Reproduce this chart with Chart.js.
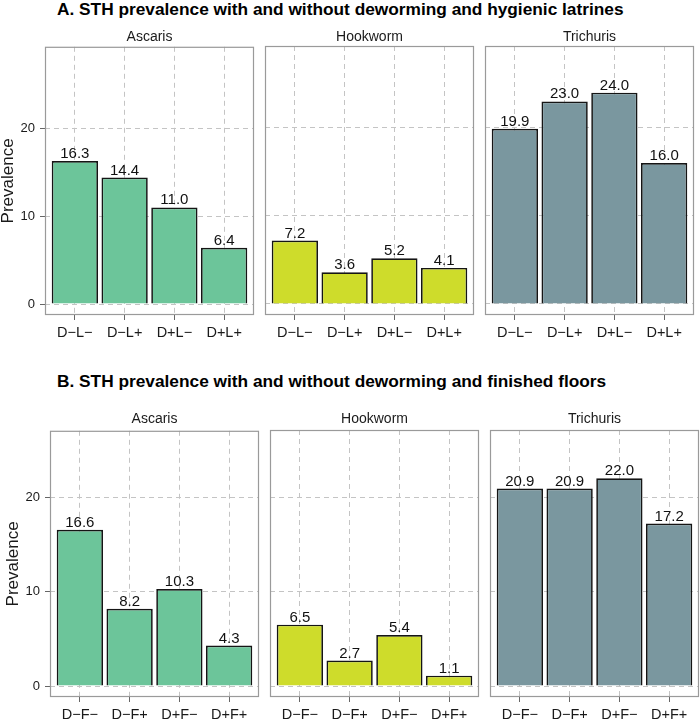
<!DOCTYPE html>
<html>
<head>
<meta charset="utf-8">
<script src="https://cdn.jsdelivr.net/npm/chart.js@4"></script>
<style>
  body { margin: 0; width: 700px; height: 719px; overflow: hidden; background: #fff; position: relative;
         font-family: "Liberation Sans", Arial, Helvetica, sans-serif; }
  .ttl { position: absolute; left: 57px; font-weight: bold; font-size: 17.3px; line-height: 17px; color: #000; white-space: nowrap; }
  .strip { position: absolute; width: 209px; text-align: center; font-size: 14px; line-height: 14px; color: #1a1a1a; }
  canvas { position: absolute; }
</style>
</head>
<body>
<div class="ttl" style="top:1px">A. STH prevalence with and without deworming and hygienic latrines</div>
<div class="ttl" style="top:373px">B. STH prevalence with and without deworming and finished floors</div>
<script>
/* --- dados --- */
const parasites     = ['Ascaris', 'Hookworm', 'Trichuris'];
const latrineGroups = ['D−L−', 'D−L+', 'D+L−', 'D+L+'];
const floorGroups   = ['D−F−', 'D−F+', 'D+F−', 'D+F+'];

const latrineAscaris   = [16.3, 14.4, 11.0, 6.4];
const latrineHookworm  = [7.2, 3.6, 5.2, 4.1];
const latrineTrichuris = [19.9, 23.0, 24.0, 16.0];

const floorAscaris   = [16.6, 8.2, 10.3, 4.3];
const floorHookworm  = [6.5, 2.7, 5.4, 1.1];
const floorTrichuris = [20.9, 20.9, 22.0, 17.2];

const yTicks = [0, 10, 20];

/* --- estilo --- */
const FONT     = '"Liberation Sans", Arial, Helvetica, sans-serif';
const COLORS   = ['#6cc59a', '#cedc2b', '#7a979f'];
const GRID     = '#c4c4c4';
const PANEL_W  = 209;
const PAD_T    = 12;
const PAD_R    = 3;
const AXIS_B   = 28;

const rows = [
  { groups: latrineGroups, series: [latrineAscaris, latrineHookworm, latrineTrichuris],
    top: 46, height: 269, lefts: [45, 265, 485], yMin: -1.25, yMax: 29.3, stripTop: 29 },
  { groups: floorGroups, series: [floorAscaris, floorHookworm, floorTrichuris],
    top: 430, height: 267, lefts: [50, 270, 490], yMin: -1.16, yMax: 27.1, stripTop: 411 },
];

/* moldura do painel */
const panelFrame = {
  id: 'panelFrame',
  beforeDatasetsDraw(chart) {
    const { ctx, chartArea: a } = chart;
    ctx.save();
    ctx.strokeStyle = '#9a9a9a';
    ctx.lineWidth = 1.2;
    ctx.strokeRect(a.left + 0.5, a.top + 0.5, a.width - 1, a.height - 1);
    ctx.restore();
  },
};

/* valores acima das barras */
const valueLabels = {
  id: 'valueLabels',
  afterDatasetsDraw(chart) {
    const { ctx } = chart;
    const meta = chart.getDatasetMeta(0);
    const pts  = chart.data.datasets[0].data;
    ctx.save();
    ctx.font = '15px ' + FONT;
    ctx.fillStyle = '#111';
    ctx.textAlign = 'center';
    ctx.textBaseline = 'alphabetic';
    meta.data.forEach((bar, i) => ctx.fillText(pts[i].y.toFixed(1), bar.x, bar.y - 3));
    ctx.restore();
  },
};

function makePanel(row, p) {
  const showY = p === 0;
  const L = showY ? 45 : 2;
  const left = row.lefts[p];

  const canvas = document.createElement('canvas');
  canvas.width  = L + PANEL_W + PAD_R;
  canvas.height = PAD_T + row.height + AXIS_B;
  canvas.style.left = (left - L) + 'px';
  canvas.style.top  = (row.top - PAD_T) + 'px';
  document.body.appendChild(canvas);

  const strip = document.createElement('div');
  strip.className = 'strip';
  strip.style.left = left + 'px';
  strip.style.top  = row.stripTop + 'px';
  strip.textContent = parasites[p];
  document.body.appendChild(strip);

  new Chart(canvas, {
    type: 'bar',
    data: {
      datasets: [{
        data: row.series[p].map((v, i) => ({ x: i, y: v })),
        backgroundColor: COLORS[p],
        borderColor: '#151515',
        borderWidth: 1.7,
        barPercentage: 0.93,
        categoryPercentage: 1,
      }],
    },
    options: {
      responsive: false,
      animation: false,
      devicePixelRatio: 1,
      events: [],
      layout: { padding: { left: 0, top: PAD_T, right: PAD_R, bottom: 0 } },
      plugins: { legend: { display: false }, tooltip: { enabled: false } },
      scales: {
        x: {
          type: 'linear',
          position: 'bottom',
          offset: false,
          min: -0.6,
          max: 3.6,
          afterBuildTicks: s => { s.ticks = row.groups.map((_, i) => ({ value: i })); },
          afterFit: s => { s.height = AXIS_B; },
          ticks: {
            callback: v => row.groups[v],
            color: '#1a1a1a',
            font: { family: FONT, size: 14.5 },
            padding: 4,
            maxRotation: 0,
            autoSkip: false,
          },
          grid: { offset: false, color: GRID, lineWidth: 1, tickLength: 5, tickColor: '#666', tickWidth: 1 },
          border: { display: false, dash: [5, 4] },
        },
        y: {
          type: 'linear',
          min: row.yMin,
          max: row.yMax,
          afterBuildTicks: s => { s.ticks = yTicks.map(v => ({ value: v })); },
          afterFit: s => { s.width = L; },
          ticks: {
            display: showY,
            color: '#1a1a1a',
            font: { family: FONT, size: 13 },
            padding: 5,
          },
          grid: { color: GRID, lineWidth: 1, drawTicks: showY, tickLength: 5, tickColor: '#666', tickWidth: 1 },
          border: { display: false, dash: [5, 4] },
          title: {
            display: showY,
            text: 'Prevalence',
            color: '#1a1a1a',
            font: { family: FONT, size: 17, lineHeight: 1 },
            padding: { top: 0, bottom: 0 },
          },
        },
      },
    },
    plugins: [panelFrame, valueLabels],
  });
}

rows.forEach(row => parasites.forEach((_, p) => makePanel(row, p)));
</script>
</body>
</html>
